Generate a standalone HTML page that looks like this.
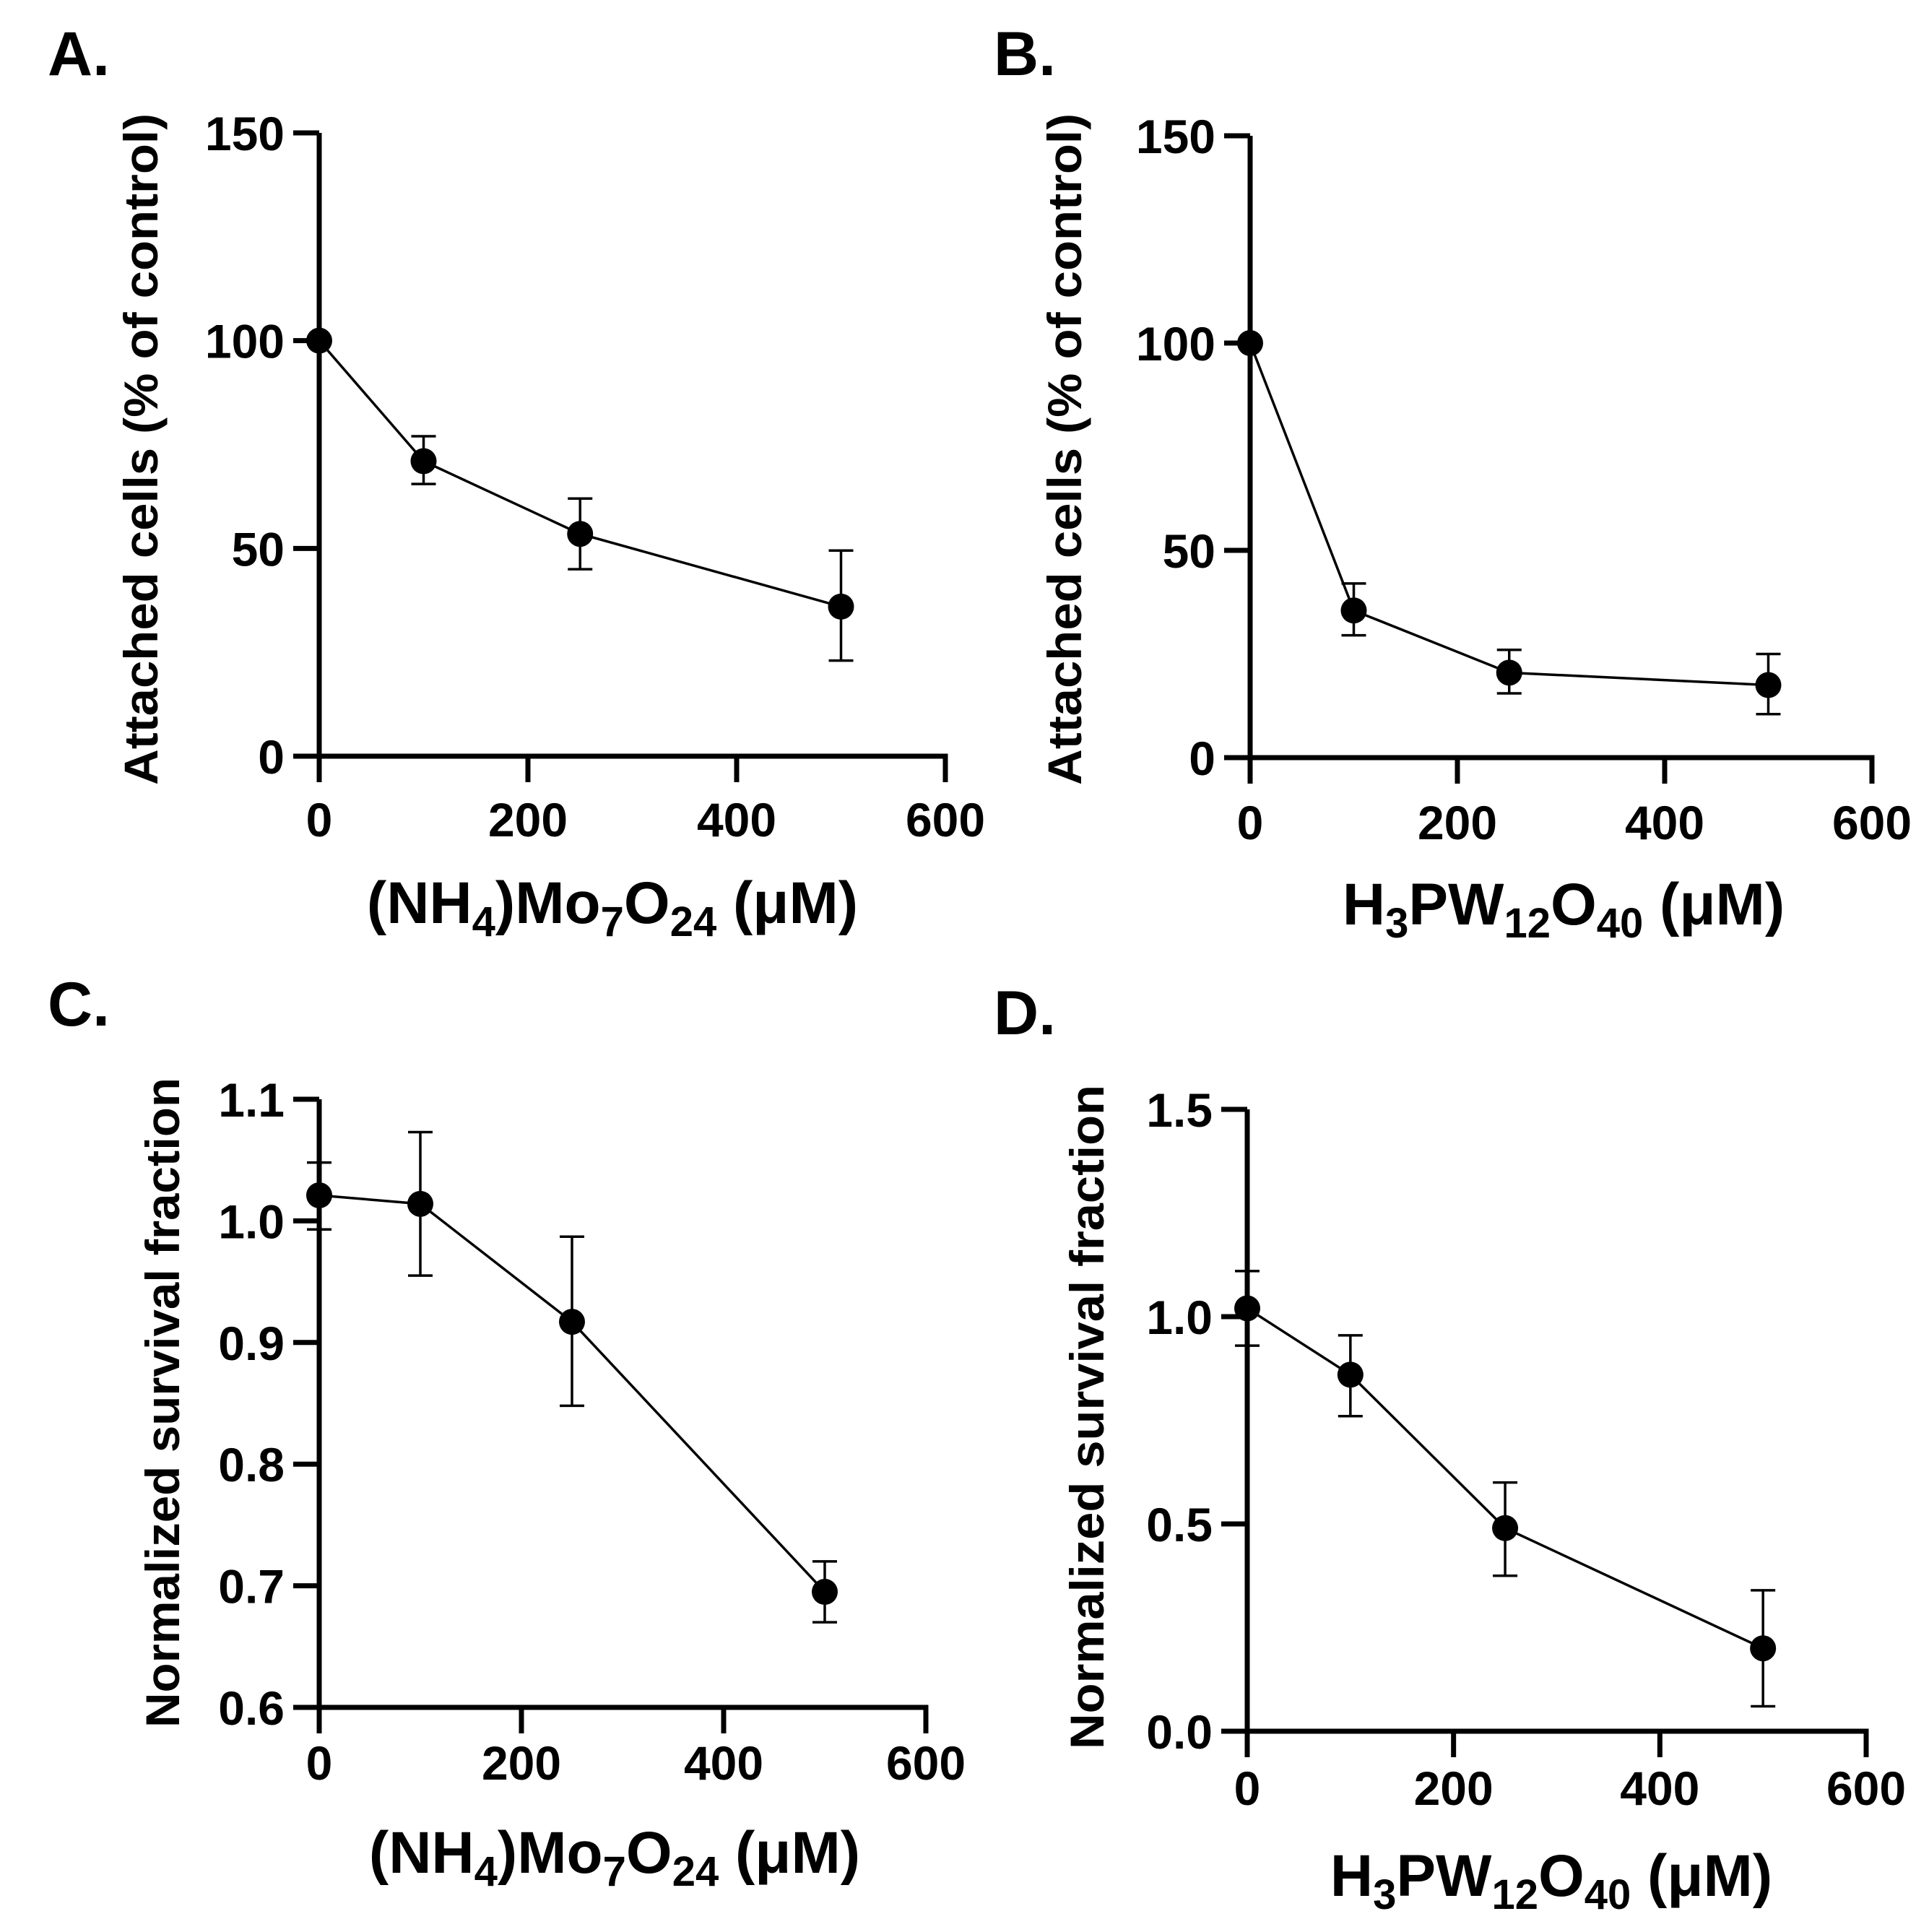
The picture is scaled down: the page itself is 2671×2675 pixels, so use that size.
<!DOCTYPE html>
<html><head><meta charset="utf-8"><style>
html,body{margin:0;padding:0;background:#fff;}
svg{display:block;font-family:"Liberation Sans",Arial,sans-serif;font-weight:bold;}
</style></head><body>
<svg id="fig" width="2671" height="2675" viewBox="0 0 2671 2675" xmlns="http://www.w3.org/2000/svg">
<rect width="2671" height="2675" fill="#fff"/>
<text x="66" y="104" font-size="86">A.</text>
<text x="1376" y="104" font-size="86">B.</text>
<text x="66" y="1420" font-size="86">C.</text>
<text x="1376" y="1432" font-size="86">D.</text>
</svg>
<script>
const concA = [0, 100, 250, 500];
const valA = [100, 71, 53.5, 36];
const errLoA = [100, 65.5, 45, 23];
const errHiA = [100, 77, 62, 49.5];
const concB = [0, 100, 250, 500];
const valB = [100, 35.5, 20.5, 17.5];
const errLoB = [100, 29.5, 15.5, 10.5];
const errHiB = [100, 42, 26, 25];
const concC = [0, 100, 250, 500];
const valC = [1.021, 1.014, 0.917, 0.695];
const errLoC = [0.993, 0.955, 0.848, 0.670];
const errHiC = [1.048, 1.073, 0.987, 0.720];
const concD = [0, 100, 250, 500];
const valD = [1.02, 0.86, 0.49, 0.20];
const errLoD = [0.93, 0.76, 0.375, 0.06];
const errHiD = [1.11, 0.955, 0.60, 0.34];
const xTicks = [0, 200, 400, 600];
const yTicksAB = [0, 50, 100, 150];
const yTicksC = [0.6, 0.7, 0.8, 0.9, 1.0, 1.1];
const yTicksD = [0.0, 0.5, 1.0, 1.5];

const NS = "http://www.w3.org/2000/svg";
const svg = document.getElementById('fig');
function mk(tag, attrs, parent) {
  const e = document.createElementNS(NS, tag);
  for (const k in attrs) e.setAttribute(k, attrs[k]);
  (parent || svg).appendChild(e);
  return e;
}
function panel(cfg) {
  const g = mk('g', {});
  
  
  const sx = v => cfg.x0 + (v - 0) / 600 * (cfg.x1 - cfg.x0);
  const sy = v => cfg.y0 + (v - cfg.ymin) / (cfg.ymax - cfg.ymin) * (cfg.y1 - cfg.y0);
  const ya = mk('line', {x1: cfg.x0, y1: cfg.y0 + 3.5, x2: cfg.x0, y2: cfg.y1, stroke: '#000', 'stroke-width': 7}, g);
  
  
  const xa = mk('line', {x1: cfg.x0 - 36, y1: cfg.y0, x2: cfg.x1 + 3.5, y2: cfg.y0, stroke: '#000', 'stroke-width': 7}, g);
  
  
  xTicks.forEach(t => {
    const tk = mk('line', {x1: sx(t), y1: cfg.y0, x2: sx(t), y2: cfg.y0 + 36, stroke: '#000', 'stroke-width': 7}, g);
    
    
    const tl = mk('text', {x: sx(t), y: cfg.xlabY + 24, 'font-size': 66, 'text-anchor': 'middle'}, g);
    tl.textContent = t;
    
    
  });
  cfg.yTicks.forEach(t => {
    const tk = mk('line', {x1: cfg.x0 - 36, y1: sy(t), x2: cfg.x0, y2: sy(t), stroke: '#000', 'stroke-width': 7}, g);
    
    
    const tl = mk('text', {x: cfg.x0 - 48, y: sy(t) + 24, 'font-size': 66, 'text-anchor': 'end'}, g);
    tl.textContent = cfg.fmt(t);
    
    
  });
  const yt = mk('text', {x: 0, y: 0, 'font-size': 66, 'text-anchor': 'middle',
    transform: 'translate(' + cfg.ytX + ',' + cfg.ytY + ') rotate(-90)', textLength: cfg.ytLen, lengthAdjust: 'spacingAndGlyphs'}, g);
  yt.textContent = cfg.ytitle;
  
  
  const xt = mk('text', {x: cfg.xtX, y: cfg.xtY, 'font-size': 82, 'text-anchor': 'middle'}, g);
  xt.innerHTML = cfg.xtitle;
  
  
  const pts = cfg.conc.map((c, i) => sx(c) + ',' + sy(cfg.val[i])).join(' ');
  const pl = mk('polyline', {points: pts, fill: 'none', stroke: '#000', 'stroke-width': 3.5}, g);
  
  
  cfg.conc.forEach((c, i) => {
    const x = sx(c);
    if (cfg.hi[i] !== cfg.lo[i]) {
      const eb = mk('path', {d: 'M' + x + ',' + sy(cfg.lo[i]) + 'V' + sy(cfg.hi[i]) +
        'M' + (x - 17) + ',' + sy(cfg.lo[i]) + 'H' + (x + 17) +
        'M' + (x - 17) + ',' + sy(cfg.hi[i]) + 'H' + (x + 17), stroke: '#000', 'stroke-width': 3.5, fill: 'none'}, g);
      
      
    }
    const pt = mk('circle', {cx: x, cy: sy(cfg.val[i]), r: 18, fill: '#000'}, g);
    
    
  });
}
const molyb = '(NH<tspan font-size="58" dy="18">4</tspan><tspan dy="-18">)Mo</tspan><tspan font-size="58" dy="18">7</tspan><tspan dy="-18">O</tspan><tspan font-size="58" dy="18">24</tspan><tspan dy="-18"> (μM)</tspan>';
const tung = 'H<tspan font-size="58" dy="18">3</tspan><tspan dy="-18">PW</tspan><tspan font-size="58" dy="18">12</tspan><tspan dy="-18">O</tspan><tspan font-size="58" dy="18">40</tspan><tspan dy="-18"> (μM)</tspan>';
panel({name: 'panel-a', x0: 442, x1: 1309, y0: 1047, y1: 184, ymin: 0, ymax: 150, yTicks: yTicksAB, fmt: v => v,
  conc: concA, val: valA, lo: errLoA, hi: errHiA, xlabY: 1134,
  ytitle: 'Attached cells (% of control)', ytX: 218, ytY: 622, ytLen: 930,
  xtitle: molyb, xtX: 848, xtY: 1278});
panel({name: 'panel-b', x0: 1731, x1: 2592, y0: 1049, y1: 188, ymin: 0, ymax: 150, yTicks: yTicksAB, fmt: v => v,
  conc: concB, val: valB, lo: errLoB, hi: errHiB, xlabY: 1138,
  ytitle: 'Attached cells (% of control)', ytX: 1497, ytY: 622, ytLen: 930,
  xtitle: tung, xtX: 2165, xtY: 1280});
panel({name: 'panel-c', x0: 442, x1: 1282, y0: 2364, y1: 1522, ymin: 0.6, ymax: 1.1, yTicks: yTicksC, fmt: v => v.toFixed(1),
  conc: concC, val: valC, lo: errLoC, hi: errHiC, xlabY: 2440,
  ytitle: 'Normalized survival fraction', ytX: 248, ytY: 1942, ytLen: 900,
  xtitle: molyb, xtX: 851, xtY: 2593});
panel({name: 'panel-d', x0: 1727, x1: 2584, y0: 2397, y1: 1536, ymin: 0, ymax: 1.5, yTicks: yTicksD, fmt: v => v.toFixed(1),
  conc: concD, val: valD, lo: errLoD, hi: errHiD, xlabY: 2475,
  ytitle: 'Normalized survival fraction', ytX: 1528, ytY: 1962, ytLen: 920,
  xtitle: tung, xtX: 2148, xtY: 2625});
</script>
</body></html>
